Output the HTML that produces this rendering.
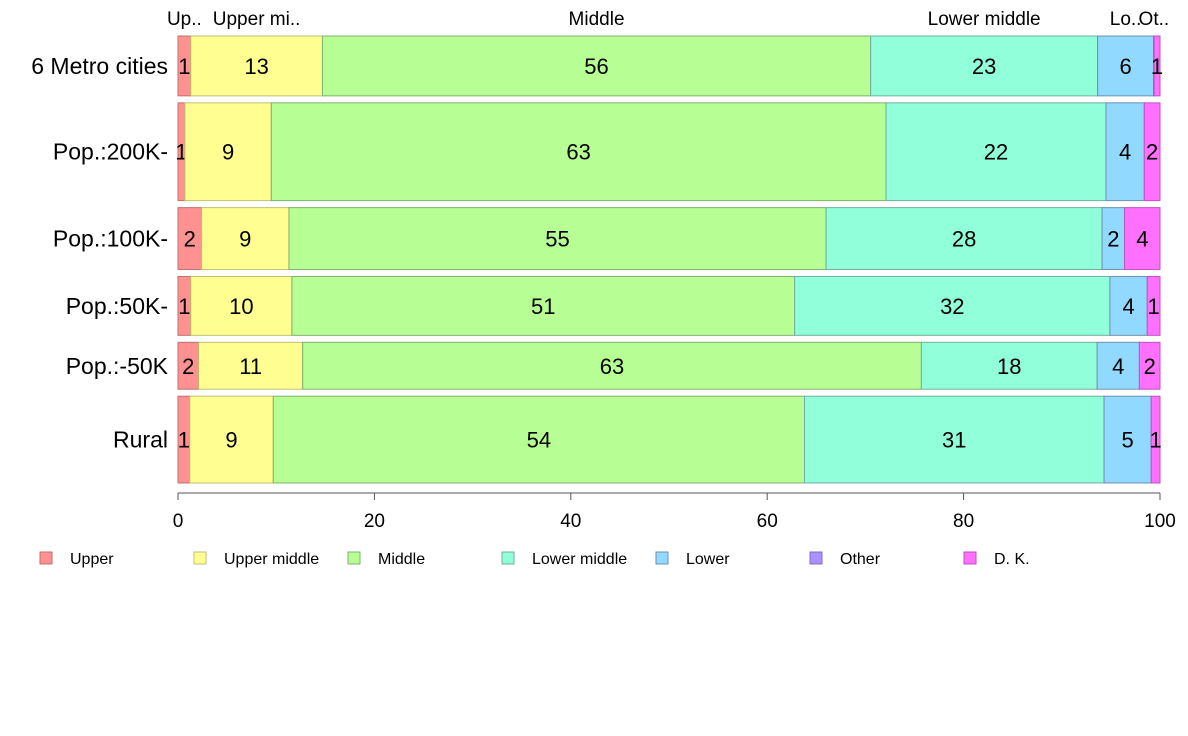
<!DOCTYPE html>
<html><head><meta charset="utf-8"><style>
body{margin:0;background:#fff;}
svg{display:block;font-family:"Liberation Sans",Arial,sans-serif;}
</style></head><body>
<svg id="chart" width="1188" height="736" viewBox="0 0 1188 736"></svg>
<script>
const categories=["6 Metro cities","Pop.:200K-","Pop.:100K-","Pop.:50K-","Pop.:-50K","Rural"];
const sizes=[60,98,62,59,47,87];
const seriesNames=["Upper","Upper middle","Middle","Lower middle","Lower","Other","D. K."];
const upper=[1.3,0.7,2.4,1.3,2.1,1.2];
const upperMiddle=[13.4,8.8,8.9,10.3,10.6,8.5];
const middle=[55.8,62.6,54.7,51.2,63.0,54.1];
const lowerMiddle=[23.1,22.4,28.1,32.1,17.9,30.5];
const lower=[5.7,3.9,2.3,3.8,4.3,4.8];
const other=[0.05,0,0,0,0,0];
const dk=[0.6,1.6,3.6,1.3,2.1,0.9];
const topLabels=["Up..","Upper mi..","Middle","Lower middle","Lo..","Ot..",""];
const ticks=[0,20,40,60,80,100];
const colors=["#ff9191","#ffff91","#b7ff94","#91ffd9","#91d9ff","#a991ff","#ff70ff"];
const strokes=["#c07070","#c0c070","#80b070","#70b0a0","#7090b0","#8070c0","#c050c0"];
const series=[upper,upperMiddle,middle,lowerMiddle,lower,other,dk];

const svg=document.getElementById('chart');
const NS="http://www.w3.org/2000/svg";
const X0=178,X1=1160,Y0=36,Y1=483,GAP=7;
const x=v=>X0+(X1-X0)*v/100;
function mk(t,a,txt){const e=document.createElementNS(NS,t);for(const k in a)e.setAttribute(k,a[k]);if(txt!==undefined)e.textContent=txt;svg.appendChild(e);return e;}
const totalN=sizes.reduce((a,b)=>a+b,0);
const avail=(Y1-Y0)-GAP*(sizes.length-1);
let yc=Y0;
categories.forEach((cat,i)=>{
  const h=avail*sizes[i]/totalN;
  const rowTotal=series.reduce((s,a)=>s+a[i],0);
  let cum=0;
  series.forEach((arr,j)=>{
    const v=arr[i]/rowTotal*100;
    const xa=x(cum),xb=x(cum+v);
    const r=mk('rect',{x:xa,y:yc,width:Math.max(xb-xa,0),height:h,fill:colors[j],stroke:strokes[j],'stroke-width':1});
    
    
    if(arr[i]>=0.5){
      const t=mk('text',{x:(xa+xb)/2,y:yc+h/2+8,'text-anchor':'middle','font-size':22,fill:'#000'},String(Math.round(arr[i])));
      
      
    }
    if(i===0&&topLabels[j]){
      const t=mk('text',{x:(xa+xb)/2,y:25,'text-anchor':'middle','font-size':19,fill:'#000'},topLabels[j]);
      
      
    }
    cum+=v;
  });
  const lb=mk('text',{x:168,y:yc+h/2+8,'text-anchor':'end','font-size':23,fill:'#000'},cat);
  
  
  yc+=h+GAP;
});
const ax=mk('line',{x1:X0,x2:X1,y1:493,y2:493,stroke:'#555','stroke-width':1});


ticks.forEach(t=>{
  const l=mk('line',{x1:x(t),x2:x(t),y1:493,y2:500,stroke:'#555'});
  
  
  const tx=mk('text',{x:x(t),y:527,'text-anchor':'middle','font-size':19,fill:'#000'},String(t));
  
  
});
seriesNames.forEach((n,j)=>{
  const lx=40+j*154;
  const b=mk('rect',{x:lx,y:552,width:12,height:12,fill:colors[j],stroke:strokes[j]});
  
  
  const t=mk('text',{x:lx+30,y:564,'font-size':16,fill:'#000'},n);
  
  
});
</script>
</body></html>
